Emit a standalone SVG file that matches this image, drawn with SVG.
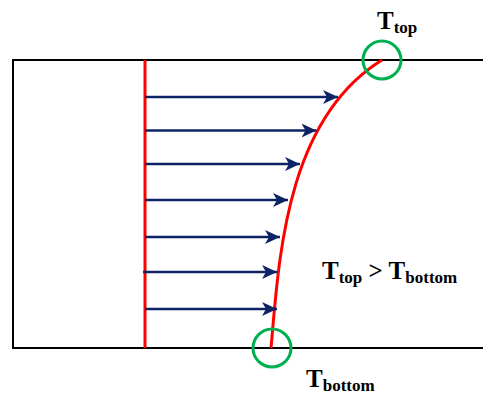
<svg xmlns="http://www.w3.org/2000/svg" width="483" height="396" viewBox="0 0 483 396">
<style>
.wall{stroke:#000;stroke-width:2;fill:none}
.red{stroke:#ff0000;stroke-width:3;fill:none}
.arr{stroke:#0c2466;stroke-width:2.5;fill:none;marker-end:url(#ah)}
.ring{stroke:#00b050;stroke-width:3;fill:none}
.lbl{font-family:"Liberation Serif","Times New Roman",serif;font-weight:bold;font-size:25px;fill:#000}
.sub{font-size:17px}
</style>
<defs>
<marker id="ah" markerUnits="userSpaceOnUse" markerWidth="16" markerHeight="14" refX="15" refY="7" orient="auto">
<path d="M0,0 L15,7 L0,14 L4,7 Z" fill="#0c2466"/>
</marker>
</defs>
<g id="walls">
<path class="wall" d="M483,60 H13 V348 H483"/>
</g>
<g id="profile">
<line class="red" x1="145" y1="60" x2="145" y2="348"/>
<path class="red" d="M271,348 C279,260 285,120 382,60"/>
</g>
<g id="connectors">
<line class="arr" x1="145" y1="97" x2="338" y2="97"/>
<line class="arr" x1="145" y1="130.5" x2="316.5" y2="130.5"/>
<line class="arr" x1="145" y1="164" x2="300" y2="164"/>
<line class="arr" x1="145" y1="200" x2="288" y2="200"/>
<line class="arr" x1="145" y1="237" x2="280" y2="237"/>
<line class="arr" x1="143" y1="272" x2="277" y2="272"/>
<line class="arr" x1="145" y1="309" x2="277" y2="309"/>
</g>
<g id="top-ring"><circle class="ring" cx="382" cy="60" r="19"/></g>
<g id="bottom-ring"><circle class="ring" cx="272" cy="348" r="19"/></g>
<g id="label-top"><text class="lbl" x="377" y="29">T<tspan class="sub" dy="4">top</tspan></text></g>
<g id="label-bottom"><text class="lbl" x="306" y="387">T<tspan class="sub" dy="4">bottom</tspan></text></g>
<g id="label-compare"><text class="lbl" x="322" y="279">T<tspan class="sub" dy="4">top</tspan><tspan dy="-4"> &gt; T</tspan><tspan class="sub" dy="4">bottom</tspan></text></g>
</svg>
